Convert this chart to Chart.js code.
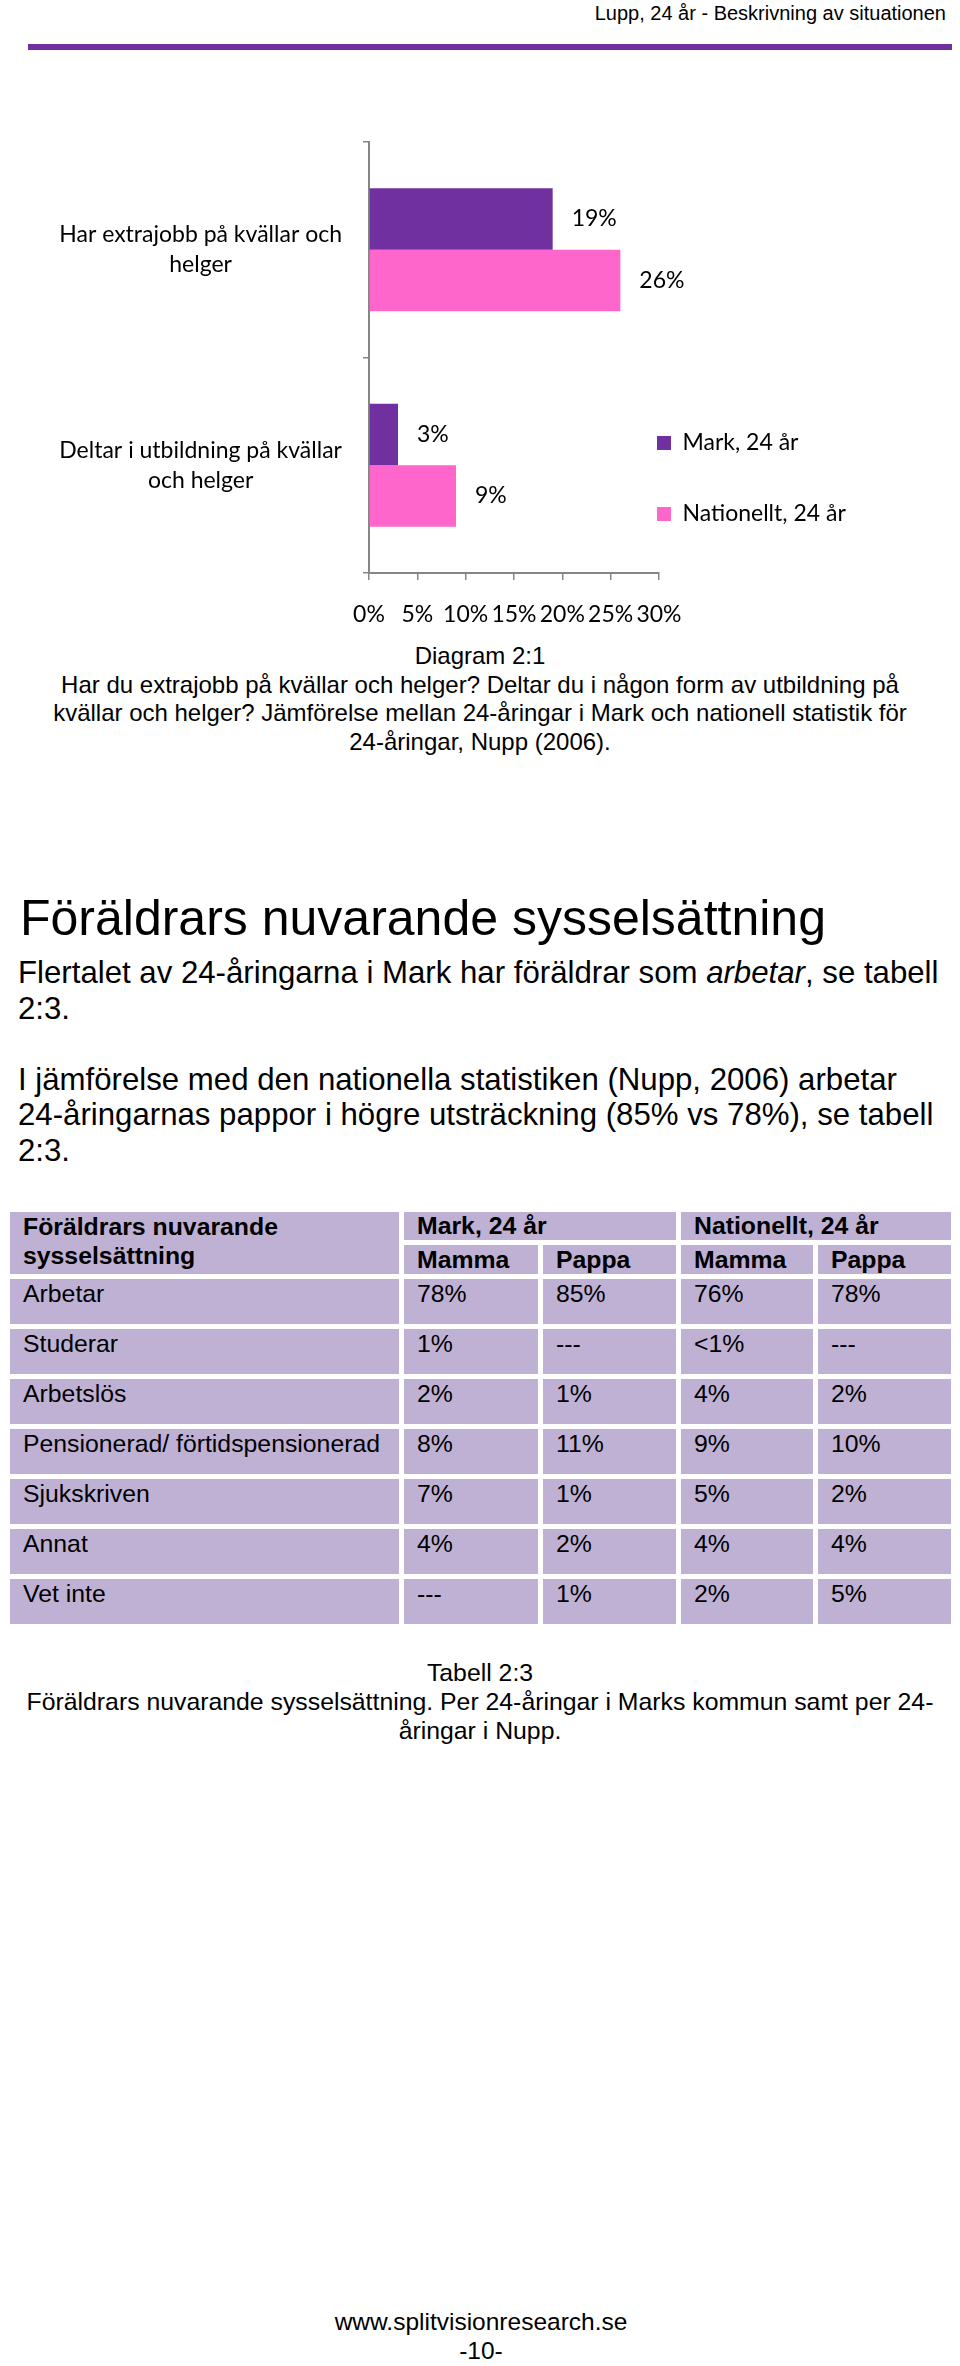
<!DOCTYPE html>
<html>
<head>
<meta charset="utf-8">
<title>Lupp, 24 år - Beskrivning av situationen</title>
<script src="https://cdn.jsdelivr.net/npm/chart.js@4.4.1/dist/chart.umd.min.js"></script>
<style>
body { margin:0; background:#fff; color:#000; font-family:"Liberation Sans", Arial, sans-serif; }
#page { position:relative; width:960px; height:2366px; overflow:hidden; }
.abs { position:absolute; }
#top { right:14px; top:3px; font-size:20px; line-height:20px; white-space:nowrap; }
#rule { left:28px; top:44px; width:924px; height:6px; background:#7030a0; }
#chartBox { left:0; top:80px; width:960px; height:560px; }
.center { left:0; width:960px; text-align:center; font-size:24.5px; line-height:28.5px; }
#cap1 { top:642px; font-size:24px; }
#head { left:20px; top:890px; font-size:50px; line-height:56px; white-space:nowrap; }
#text { left:18px; top:955px; font-size:31.2px; line-height:35.5px; white-space:nowrap; }
#tbl { left:5px; top:1207px; width:951px; table-layout:fixed; border-collapse:separate; border-spacing:5px; font-size:24.8px; }
#tbl td { background:#bfb1d4; padding:2px 0 0 13px; vertical-align:top; line-height:26px; white-space:nowrap; overflow:hidden; }
#tbl tr.row td { height:43px; }
#tbl td.h { font-weight:bold; vertical-align:middle; padding:0 0 0 13px; }
#tbl td.h1 { height:28px; }
#tbl td.h2 { height:29px; }
#tbl td.corner { font-weight:bold; padding:0 0 0 13px; line-height:29px; }
#cap2 { top:1658px; line-height:29px; font-size:24.8px; }
#foot { top:2307px; line-height:29px; left:1px; }
</style>
</head>
<body>
<div id="page">
  <div id="top" class="abs">Lupp, 24 år - Beskrivning av situationen</div>
  <div id="rule" class="abs"></div>

  <div id="chartBox" class="abs"><canvas id="dvCanvas"></canvas></div>

  <div id="cap1" class="abs center">Diagram 2:1<br>Har du extrajobb på kvällar och helger? Deltar du i någon form av utbildning på<br>kvällar och helger? Jämförelse mellan 24-åringar i Mark och nationell statistik för<br>24-åringar, Nupp (2006).</div>

  <div id="head" class="abs">Föräldrars nuvarande sysselsättning</div>
  <div id="text" class="abs">Flertalet av 24-åringarna i Mark har föräldrar som <i>arbetar</i>, se tabell<br>2:3.<br><br>I jämförelse med den nationella statistiken (Nupp, 2006) arbetar<br>24-åringarnas pappor i högre utsträckning (85% vs 78%), se tabell<br>2:3.</div>

  <table id="tbl" class="abs">
    <colgroup><col style="width:389px"><col style="width:134px"><col style="width:133px"><col style="width:132px"><col style="width:133px"></colgroup>
    <tbody id="tblBody"></tbody>
  </table>

  <div id="cap2" class="abs center">Tabell 2:3<br>Föräldrars nuvarande sysselsättning. Per 24-åringar i Marks kommun samt per 24-<br>åringar i Nupp.</div>

  <div id="foot" class="abs center">www.splitvisionresearch.se<br>-10-</div>
</div>

<script>
// chart data (diagram 2:1)
var categories = [['Har extrajobb på kvällar och', 'helger'], ['Deltar i utbildning på kvällar', 'och helger']];
var seriesNames = ['Mark, 24 år', 'Nationellt, 24 år'];
var markValues = [19, 3];
var nationalValues = [26, 9];
var seriesColors = ['#7030a0', '#ff66cc'];
var xMax = 30;
var xStep = 5;

// table data (tabell 2:3)
var groupNames = ['Mark, 24 år', 'Nationellt, 24 år'];
var parentNames = ['Mamma', 'Pappa'];
var rowNames = ['Arbetar', 'Studerar', 'Arbetslös', 'Pensionerad/ förtidspensionerad', 'Sjukskriven', 'Annat', 'Vet inte'];
var markMamma = ['78%', '1%', '2%', '8%', '7%', '4%', '---'];
var markPappa = ['85%', '---', '1%', '11%', '1%', '2%', '1%'];
var natMamma = ['76%', '<1%', '4%', '9%', '5%', '4%', '2%'];
var natPappa = ['78%', '---', '2%', '10%', '2%', '4%', '5%'];

function buildTable() {
    var html = '';
    html += '<tr><td class="corner" rowspan="2">Föräldrars nuvarande<br>sysselsättning</td>';
    html += '<td class="h h1" colspan="2">' + groupNames[0] + '</td>';
    html += '<td class="h h1" colspan="2">' + groupNames[1] + '</td></tr>';
    html += '<tr>';
    for (var g = 0; g < 2; g++) {
        html += '<td class="h h2">' + parentNames[0] + '</td><td class="h h2">' + parentNames[1] + '</td>';
    }
    html += '</tr>';
    for (var i = 0; i < rowNames.length; i++) {
        html += '<tr class="row"><td>' + rowNames[i] + '</td>';
        html += '<td>' + markMamma[i].replace('<', '&lt;') + '</td>';
        html += '<td>' + markPappa[i].replace('<', '&lt;') + '</td>';
        html += '<td>' + natMamma[i].replace('<', '&lt;') + '</td>';
        html += '<td>' + natPappa[i].replace('<', '&lt;') + '</td></tr>';
    }
    document.getElementById('tblBody').innerHTML = html;
}

// percent labels to the right of each bar
var valueLabels = {
    id: 'valueLabels',
    afterDatasetsDraw: function(chart) {
        var ctx = chart.ctx;
        ctx.save();
        ctx.font = '23px Lato';
        ctx.fillStyle = '#000';
        ctx.textAlign = 'left';
        ctx.textBaseline = 'middle';
        chart.data.datasets.forEach(function(ds, i) {
            chart.getDatasetMeta(i).data.forEach(function(bar, j) {
                ctx.fillText(ds.data[j] + '%', bar.x + 19, bar.y);
            });
        });
        ctx.restore();
    }
};

// legend sits just right of the plot, at the bottom like in the report
var legendSpot = {
    id: 'legendSpot',
    afterLayout: function(chart) {
        var lg = chart.legend;
        var area = chart.chartArea;
        lg.left = area.right - 2 - lg.options.labels.padding;
        lg.right = lg.left + 300;
        lg.top = area.top;
        lg.bottom = area.bottom + 0.5;
    }
};

function drawChart() {
    var ctx = document.getElementById('dvCanvas').getContext('2d');
    Chart.defaults.font.family = 'Lato, "Open Sans", sans-serif';
    Chart.defaults.color = '#000';

    var myChart = new Chart(ctx, {
        type: 'bar',
        data: {
            labels: categories,
            datasets: [{
                label: seriesNames[0],
                data: markValues,
                backgroundColor: seriesColors[0],
                borderWidth: 0,
                categoryPercentage: 0.57,
                barPercentage: 1
            }, {
                label: seriesNames[1],
                data: nationalValues,
                backgroundColor: seriesColors[1],
                borderWidth: 0,
                categoryPercentage: 0.57,
                barPercentage: 1
            }]
        },
        options: {
            indexAxis: 'y',
            responsive: true,
            maintainAspectRatio: false,
            animation: false,
            devicePixelRatio: 1,
            layout: { padding: { top: 62, right: 301, bottom: 7, left: 0 } },
            scales: {
                x: {
                    min: 0,
                    max: xMax,
                    ticks: {
                        stepSize: xStep,
                        autoSkip: false,
                        maxRotation: 0,
                        padding: 21,
                        font: { size: 23 },
                        callback: function(v) { return v + '%'; }
                    },
                    grid: { drawOnChartArea: false, tickLength: 7, color: '#868686', lineWidth: 1.5 },
                    border: { color: '#868686', width: 2 },
                    afterFit: function(scale) { scale.height = 60; }
                },
                y: {
                    ticks: {
                        crossAlign: 'center',
                        padding: 21,
                        font: { size: 23, lineHeight: 1.3 }
                    },
                    grid: { drawOnChartArea: false, tickLength: 6, color: '#868686', lineWidth: 1.5 },
                    border: { color: '#868686', width: 2 },
                    afterFit: function(scale) { scale.width = 369; }
                }
            },
            plugins: {
                legend: {
                    position: 'chartArea',
                    align: 'end',
                    labels: {
                        boxWidth: 14,
                        boxHeight: 14,
                        padding: 48,
                        font: { size: 23 }
                    }
                },
                tooltip: { enabled: false }
            }
        },
        plugins: [valueLabels, legendSpot]
    });
}

buildTable();
if (document.fonts && document.fonts.load) {
    document.fonts.load('23px Lato').then(drawChart, drawChart);
} else {
    drawChart();
}
</script>
</body>
</html>
